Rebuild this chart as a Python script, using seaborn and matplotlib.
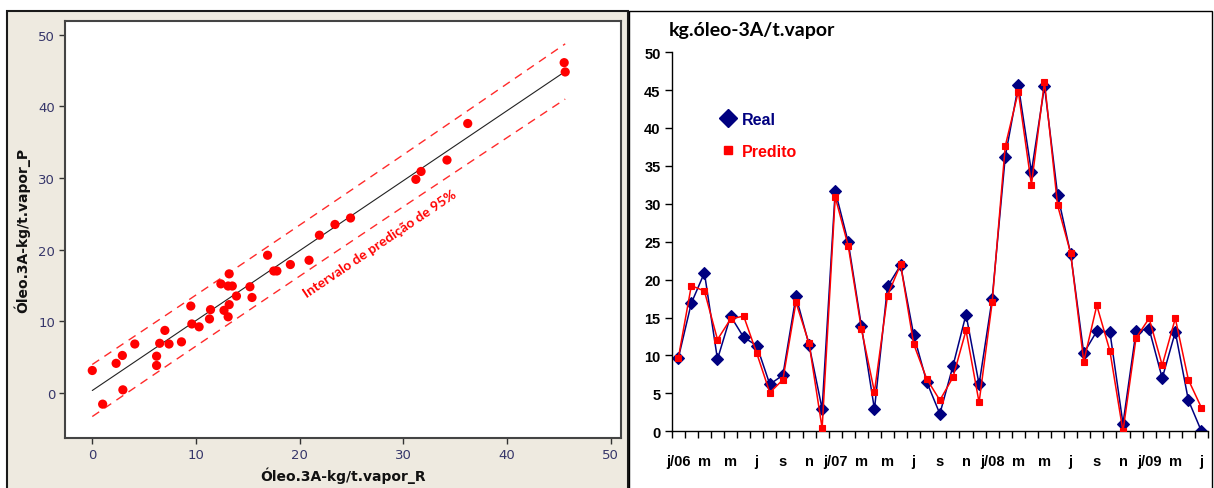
import numpy as np
import pandas as pd
import matplotlib
matplotlib.use("Agg")
import matplotlib.pyplot as plt
import seaborn as sns
from matplotlib.patches import Rectangle
from matplotlib.lines import Line2D

# Monthly oil consumption per ton of steam, Jan/2006 .. May/2009
real = [9.6, 16.9, 20.9, 9.5, 15.2, 12.4, 11.3, 6.2, 7.4, 17.8, 11.4, 2.95,
        31.7, 24.9, 13.9, 2.9, 19.1, 21.9, 12.7, 6.5, 2.3, 8.6, 15.4, 6.2,
        17.5, 36.2, 45.6, 34.2, 45.5, 31.2, 23.4, 10.3, 13.2, 13.1, 1.0, 13.2,
        13.5, 7.0, 13.1, 4.1, 0.0]
predito = [9.6, 19.2, 18.5, 12.1, 14.8, 15.2, 10.3, 5.1, 6.8, 17.0, 11.6, 0.4,
           30.9, 24.4, 13.5, 5.2, 17.9, 22.0, 11.5, 6.9, 4.1, 7.1, 13.3, 3.8,
           17.0, 37.6, 44.8, 32.5, 46.1, 29.8, 23.5, 9.2, 16.6, 10.6, -1.6, 12.3,
           14.9, 8.7, 14.9, 6.8, 3.1]
month_labels = ["j/06", "m", "m", "j", "s", "n", "j/07", "m", "m", "j", "s", "n",
                "j/08", "m", "m", "j", "s", "n", "j/09", "m", "j"]
x_ticks_left = [0, 10, 20, 30, 40, 50]
y_ticks_left = [0, 10, 20, 30, 40, 50]
y_ticks_right = list(range(0, 55, 5))

sns.set_theme(style="ticks")
plt.rcParams["font.family"] = ["DejaVu Sans"]

NAVY = "#000080"
RED = "#FF0000"
BEIGE = "#EEEAE0"

W, H = 1214, 489
fig = plt.figure(figsize=(W / 100, H / 100), dpi=100)
fig.patch.set_facecolor("white")


def fx(px):
    return px / W


def fy(py):
    return 1 - py / H


# panel backgrounds / frames
fig.patches.append(Rectangle((fx(6.7), fy(495)), fx(628.3 - 6.7), (495 - 11.7) / H,
                             transform=fig.transFigure, facecolor=BEIGE,
                             edgecolor="#1a1a1a", lw=1.5, zorder=-2))
fig.patches.append(Rectangle((fx(629), fy(495)), fx(1212 - 629), (495 - 12.3) / H,
                             transform=fig.transFigure, facecolor="white",
                             edgecolor="black", lw=1.0, zorder=-2))

df = pd.DataFrame({"mes": np.arange(len(real)), "real": real, "predito": predito})

# ---------------- left: fitted line plot ----------------
ax1 = fig.add_axes([fx(65), fy(439.3), fx(620.7 - 65), (439.3 - 21.7) / H])
ax1.set_facecolor("white")

x = df["real"].to_numpy()
y = df["predito"].to_numpy()
b1, b0 = np.polyfit(x, y, 1)
n = len(x)
resid = y - (b0 + b1 * x)
s = np.sqrt(np.sum(resid ** 2) / (n - 2))
sxx = np.sum((x - x.mean()) ** 2)
t975 = 2.0227  # Student t, 39 d.f.
xs = np.linspace(x.min(), x.max(), 200)
fit = b0 + b1 * xs
half = t975 * s * np.sqrt(1 + 1 / n + (xs - x.mean()) ** 2 / sxx)

ax1.plot(xs, fit, color="#222222", lw=0.8, zorder=2)
for band in (fit + half, fit - half):
    ax1.plot(xs, band, color="#FF2A2A", lw=1.0, dashes=(6, 4.5), zorder=2)
sns.scatterplot(data=df, x="real", y="predito", ax=ax1, color=RED, s=44,
                edgecolor="none", zorder=3)

ax1.set_xlim(-2.63, 50.95)
ax1.set_ylim(-6.37, 51.96)
ax1.set_xticks(x_ticks_left)
ax1.set_yticks(y_ticks_left)
ax1.tick_params(direction="out", length=4, width=1, color="#333333",
                labelsize=9.5, labelcolor="#36366A", pad=3)
for sp in ax1.spines.values():
    sp.set_color("#444444")
    sp.set_linewidth(1.5)
ax1.set_xlabel("Óleo.3A-kg/t.vapor_R", fontsize=10, fontweight="bold", color="#111111")
ax1.set_ylabel("Óleo.3A-kg/t.vapor_P", fontsize=10, fontweight="bold", color="#111111")
ax1.xaxis.set_label_coords(0.5, (439.3 - 468) / 417.6)
ax1.yaxis.set_label_coords((30 - 65) / 555.7, 0.5)
ax1.text(27.7, 20.9, "Intervalo de predição de 95%", rotation=34,
         rotation_mode="anchor", ha="center", va="center", color=RED,
         fontsize=10, fontweight="bold", family=["Lato", "DejaVu Sans"])

# ---------------- right: monthly series ----------------
ax2 = fig.add_axes([fx(671.7), fy(432.3), fx(1208 - 671.7), (432.3 - 53.1) / H])
ax2.set_facecolor("white")
sns.lineplot(data=df, x="mes", y="real", ax=ax2, color=NAVY, marker="D",
             markersize=6.5, markeredgecolor=NAVY, markeredgewidth=0.8,
             linewidth=1.1, zorder=2)
sns.lineplot(x=df["mes"], y=df["predito"].clip(lower=0), ax=ax2, color=RED,
             marker="s", markersize=4.8, markeredgecolor=RED,
             markeredgewidth=0.8, linewidth=1.1, zorder=3)

ax2.set_xlim(-0.5, len(real) - 0.5)
ax2.set_ylim(0, 50)
ax2.set_yticks(y_ticks_right)
ax2.set_xticks(np.arange(0, len(real), 2))
ax2.set_xticklabels(month_labels)
ax2.set_xticks(np.arange(-0.5, len(real), 1), minor=True)
ax2.tick_params(axis="x", which="major", length=0, pad=16.5)
ax2.tick_params(axis="x", which="minor", length=5, width=1, color="black", direction="out")
ax2.tick_params(axis="y", length=5, width=1, color="black", direction="out", pad=3)
for lab in ax2.get_xticklabels() + ax2.get_yticklabels():
    lab.set_family(["Liberation Sans", "DejaVu Sans"])
    lab.set_fontweight("bold")
    lab.set_fontsize(10.5)
    lab.set_color("black")
for side in ("top", "right"):
    ax2.spines[side].set_visible(False)
for side in ("left", "bottom"):
    ax2.spines[side].set_color("black")
    ax2.spines[side].set_linewidth(1.0)
ax2.set_xlabel("")
ax2.set_ylabel("")

handles = [Line2D([], [], ls="none", marker="D", ms=9, color=NAVY),
           Line2D([], [], ls="none", marker="s", ms=5.5, color=RED)]
leg = ax2.legend(handles, ["Real", "Predito"], loc="upper left",
                 bbox_to_anchor=((720 - 671.7) / 536.3, (432.3 - 113) / 379.2),
                 frameon=False, borderpad=0, borderaxespad=0, handlelength=1.0,
                 handletextpad=0.4, labelspacing=1.05,
                 prop={"family": ["Liberation Sans", "DejaVu Sans"],
                       "weight": "bold", "size": 11.5})
for txt, c in zip(leg.get_texts(), (NAVY, RED)):
    txt.set_color(c)

fig.text(fx(669), fy(36.5), "kg.óleo-3A/t.vapor", ha="left", va="baseline",
         fontsize=14, fontweight="bold", family=["Lato", "DejaVu Sans"], color="black")

fig.savefig("out.png", dpi=100, facecolor="white")
